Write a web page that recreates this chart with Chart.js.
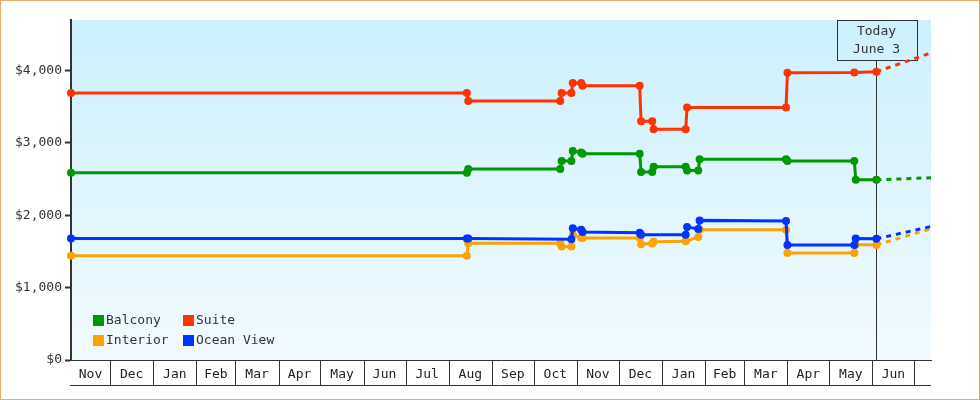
<!DOCTYPE html>
<html><head><meta charset="utf-8">
<script src="https://cdn.jsdelivr.net/npm/chart.js@4/dist/chart.umd.min.js"></script>
<style>html,body{margin:0;padding:0;background:#fff}#wrap{width:980px;height:400px;position:relative}canvas{display:block}</style>
</head><body><div id="wrap"><canvas id="c" width="980" height="400"></canvas></div>
<script>
// ---------------- data ----------------
const rangeStart = '2024-11-03';
const rangeEnd = '2026-07-13';
const today = '2026-06-03T20:00';
const todayLabel = ['Today', 'June 3'];

const monthStarts = ['2024-11-01','2024-12-01','2025-01-01','2025-02-01','2025-03-01','2025-04-01','2025-05-01',
  '2025-06-01','2025-07-01','2025-08-01','2025-09-01','2025-10-01','2025-11-01','2025-12-01','2026-01-01',
  '2026-02-01','2026-03-01','2026-04-01','2026-05-01','2026-06-01','2026-07-01'];
const monthLabels = ['Nov','Dec','Jan','Feb','Mar','Apr','May','Jun','Jul','Aug','Sep','Oct',
  'Nov','Dec','Jan','Feb','Mar','Apr','May','Jun'];

const yTickValues = [0, 1000, 2000, 3000, 4000];
const yMax = 4700;

const seriesNames = ['Balcony', 'Interior', 'Suite', 'Ocean View'];

const balconyDates = ['2024-11-03','2025-08-14','2025-08-15','2025-10-20','2025-10-21','2025-10-28','2025-10-29',
  '2025-11-04','2025-11-05','2025-12-16','2025-12-17','2025-12-25','2025-12-26','2026-01-18','2026-01-19',
  '2026-01-27','2026-01-28','2026-03-31','2026-04-01','2026-05-19','2026-05-20','2026-06-03T20:00'];
const balconyPrices = [2590,2590,2640,2640,2750,2750,2890,2870,2850,2850,2600,2600,2670,2670,2620,
  2620,2775,2775,2750,2750,2490,2490];

const interiorDates = ['2024-11-03','2025-08-14','2025-08-15','2025-10-20','2025-10-21','2025-10-28','2025-10-29',
  '2025-11-04','2025-11-05','2025-12-16','2025-12-17','2025-12-25','2025-12-26','2026-01-18','2026-01-27',
  '2026-01-28','2026-03-31','2026-04-01','2026-05-19','2026-05-20','2026-06-03T20:00'];
const interiorPrices = [1440,1440,1615,1615,1570,1570,1730,1690,1685,1685,1600,1610,1635,1640,1700,
  1800,1800,1480,1480,1595,1590];

const suiteDates = ['2024-11-03','2025-08-14','2025-08-15','2025-10-20','2025-10-21','2025-10-28','2025-10-29',
  '2025-11-04','2025-11-05','2025-12-16','2025-12-17','2025-12-25','2025-12-26','2026-01-18','2026-01-19',
  '2026-03-31','2026-04-01','2026-05-19','2026-06-03T20:00'];
const suitePrices = [3690,3690,3580,3580,3690,3690,3830,3830,3790,3790,3300,3300,3190,3190,3490,
  3490,3970,3975,3985];

const oceanDates = ['2024-11-03','2025-08-14','2025-08-15','2025-10-28','2025-10-29','2025-11-04','2025-11-05',
  '2025-12-16','2025-12-17','2026-01-18','2026-01-19','2026-01-27','2026-01-28','2026-03-31','2026-04-01',
  '2026-05-19','2026-05-20','2026-06-03T20:00'];
const oceanPrices = [1680,1680,1680,1670,1820,1800,1770,1760,1730,1730,1840,1810,1930,1920,1590,
  1590,1680,1675];

const projectionEnd = '2026-07-13';
const projectionEndPrices = [2520, 1815, 4245, 1845]; // Balcony, Interior, Suite, Ocean View

// ---------------- styles ----------------
const FONT = '"DejaVu Sans Mono", monospace';
const COLORS = ['#009900', '#ffa200', '#ff3300', '#0033ff'];
const DRAW_ORDER = [4, 3, 2, 1];

const DAY0 = Date.UTC(2024, 11, 1);
function dayNum(s) {
  const [d, t] = s.split('T');
  const [Y, M, D] = d.split('-').map(Number);
  const h = t ? Number(t.split(':')[0]) : 0;
  return (Date.UTC(Y, M - 1, D, h) - DAY0) / 864e5;
}
const toPts = (ds, vs) => ds.map((d, i) => ({ x: dayNum(d), y: vs[i] }));

const seriesDates = [balconyDates, interiorDates, suiteDates, oceanDates];
const seriesPrices = [balconyPrices, interiorPrices, suitePrices, oceanPrices];

const datasets = [];
seriesNames.forEach((name, i) => {
  datasets.push({
    label: name,
    data: toPts(seriesDates[i], seriesPrices[i]),
    borderColor: COLORS[i], backgroundColor: COLORS[i],
    borderWidth: 3, pointStyle: 'circle', pointRadius: 4, pointBorderWidth: 0,
    pointBackgroundColor: COLORS[i], pointBorderColor: COLORS[i],
    tension: 0, clip: false, order: DRAW_ORDER[i], isMain: true
  });
});
seriesNames.forEach((name, i) => {
  const p = seriesPrices[i];
  datasets.push({
    label: name + ' projection',
    data: [{ x: dayNum(seriesDates[i][seriesDates[i].length - 1]), y: p[p.length - 1] },
           { x: dayNum(projectionEnd), y: projectionEndPrices[i] }],
    borderColor: COLORS[i], borderWidth: 3, borderDash: [5, 5], pointRadius: 0,
    tension: 0, order: 10 + DRAW_ORDER[i]
  });
});

const decorPlugin = {
  id: 'decor',
  beforeDraw(chart) {
    const { ctx, chartArea: a } = chart;
    ctx.save();
    ctx.fillStyle = '#fff';
    ctx.fillRect(0, 0, chart.width, chart.height);
    const g = ctx.createLinearGradient(0, a.top, 0, a.bottom);
    g.addColorStop(0, '#ccf0fd');
    g.addColorStop(1, '#f2fbff');
    ctx.fillStyle = g;
    ctx.fillRect(a.left, a.top, a.right - a.left, a.bottom - a.top);
    ctx.restore();
  },
  beforeDatasetsDraw(chart) {
    const { ctx, chartArea: a } = chart;
    const xs = chart.scales.x;
    const tx = Math.round(xs.getPixelForValue(dayNum(today))) + 0.5;
    ctx.save();
    ctx.strokeStyle = '#333';
    ctx.lineWidth = 1;
    const bw = 80, bh = 40;
    const bx = Math.round(tx - bw / 2) + 0.5, by = a.top + 0.5;
    ctx.beginPath();
    ctx.moveTo(tx, by + bh); ctx.lineTo(tx, a.bottom);
    ctx.stroke();
    ctx.strokeRect(bx, by, bw, bh);
    ctx.fillStyle = '#333';
    ctx.font = '13px ' + FONT;
    ctx.textAlign = 'center';
    ctx.textBaseline = 'middle';
    ctx.fillText(todayLabel[0], tx, a.top + 12);
    ctx.fillText(todayLabel[1], tx, a.top + 30);
    ctx.restore();
  },
  afterDraw(chart) {
    const { ctx, chartArea: a } = chart;
    const xs = chart.scales.x;
    ctx.save();
    // month boxes
    ctx.strokeStyle = '#333';
    ctx.lineWidth = 1;
    ctx.beginPath();
    monthStarts.forEach(m => {
      const x = xs.getPixelForValue(dayNum(m));
      if (x > a.left + 1 && x < a.right - 1) {
        const px = Math.round(x) + 0.5;
        ctx.moveTo(px, a.bottom); ctx.lineTo(px, a.bottom + 25);
      }
    });
    ctx.moveTo(a.left - 1, a.bottom + 25.5); ctx.lineTo(a.right, a.bottom + 25.5);
    ctx.stroke();
    // legend
    ctx.font = '13px ' + FONT;
    ctx.textBaseline = 'middle';
    ctx.textAlign = 'left';
    chart.data.datasets.filter(d => d.isMain).forEach((d, i) => {
      const col = Math.floor(i / 2), row = i % 2;
      const lx = a.left + 22 + col * 90, ly = a.bottom - 45 + row * 20;
      ctx.fillStyle = d.borderColor;
      ctx.fillRect(lx, ly, 11, 11);
      ctx.fillStyle = '#333';
      ctx.fillText(d.label, lx + 13, ly + 6);
    });
    // outer border
    ctx.strokeStyle = '#eaa965';
    ctx.lineWidth = 2;
    ctx.strokeRect(0, 0, chart.width, chart.height);
    ctx.restore();
  }
};

new Chart(document.getElementById('c'), {
  type: 'line',
  data: { datasets },
  options: {
    responsive: false, animation: false, devicePixelRatio: 1,
    layout: { padding: { top: 20, right: 49, left: 0, bottom: 0 } },
    plugins: { legend: { display: false }, tooltip: { enabled: false } },
    scales: {
      x: {
        type: 'linear', min: dayNum(rangeStart), max: dayNum(rangeEnd),
        afterBuildTicks: s => {
          s.ticks = monthLabels.map((l, i) => ({
            value: (Math.max(dayNum(monthStarts[i]), s.min) + Math.min(dayNum(monthStarts[i + 1]), s.max)) / 2
          }));
        },
        ticks: { autoSkip: false, maxRotation: 0, minRotation: 0, padding: 7, color: '#222',
          font: { family: FONT, size: 13 }, callback: (v, i) => monthLabels[i] },
        grid: { drawOnChartArea: false, drawTicks: false },
        border: { display: true, color: '#333', width: 1 },
        afterFit: s => { s.height = 40; }
      },
      y: {
        min: 0, max: yMax,
        afterBuildTicks: s => { s.ticks = yTickValues.map(v => ({ value: v })); },
        ticks: { padding: 3, color: '#333', font: { family: FONT, size: 13 },
          callback: v => '$' + Number(v).toLocaleString('en-US') },
        grid: { drawOnChartArea: false, drawTicks: true, tickLength: 6, tickColor: '#333', tickWidth: 2 },
        border: { display: true, color: '#333', width: 2 },
        afterFit: s => { s.width = 71; }
      }
    }
  },
  plugins: [decorPlugin]
});
</script>
</body></html>
